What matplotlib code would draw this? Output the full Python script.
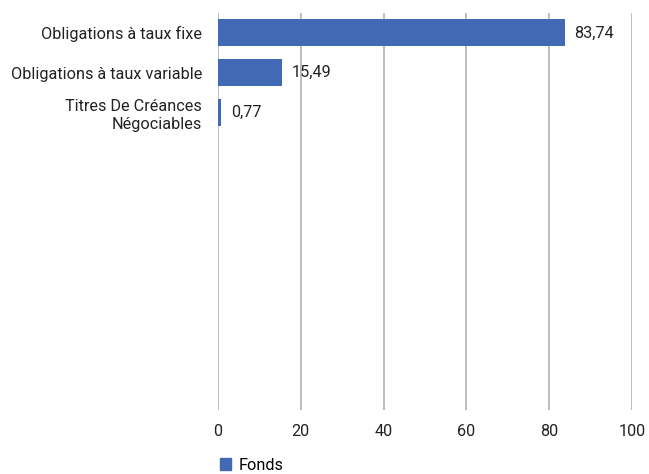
import matplotlib
matplotlib.use("Agg")
import matplotlib.pyplot as plt

categories = ["Obligations à taux fixe", "Obligations à taux variable", "Titres De Créances\nNégociables"]
values = [83.74, 15.49, 0.77]
value_labels = ["83,74", "15,49", "0,77"]
xticks = [0, 20, 40, 60, 80, 100]
series_name = "Fonds"
n_slots = 10

plt.rcParams['font.family'] = ['Roboto', 'DejaVu Sans']

color = "#4169b4"
fs = 11.7
fig = plt.figure(figsize=(6.49, 4.74), dpi=100)
ax = fig.add_axes([218/649, 1-410/474, (632-218)/649, (410-13)/474])

ypos = list(range(len(categories)))
ax.barh(ypos, values, height=0.68, color=color, label=series_name, zorder=3)
for y, v, lab in zip(ypos, values, value_labels):
    ax.text(v + 2.3, y, lab, va='center', ha='left', fontsize=fs, color='#222222')

ax.set_ylim(n_slots - 0.5, -0.5)
ax.set_xlim(0, 100)
ax.set_yticks(ypos)
ax.set_yticklabels(categories, fontsize=fs, color='#222222', linespacing=1.3)
ax.set_xticks(xticks)
ax.set_xticklabels([str(t) for t in xticks], fontsize=fs, color='#222222')
ax.tick_params(axis='both', length=0)
ax.tick_params(axis='x', pad=10)
ax.tick_params(axis='y', pad=11.5)
for s in ax.spines.values():
    s.set_visible(False)
ax.grid(axis='x', color='#b0b0b0', linewidth=1.2, zorder=0)
ax.grid(axis='y', visible=False)

leg = fig.legend(handles=[plt.Rectangle((0, 0), 1, 1, color=color)], labels=[series_name],
                 loc='center left', bbox_to_anchor=(205/649, 1-465/474), frameon=False,
                 fontsize=fs, handlelength=0.7, handleheight=0.7, handletextpad=0.5)
fig.savefig("out.png", dpi=100)
